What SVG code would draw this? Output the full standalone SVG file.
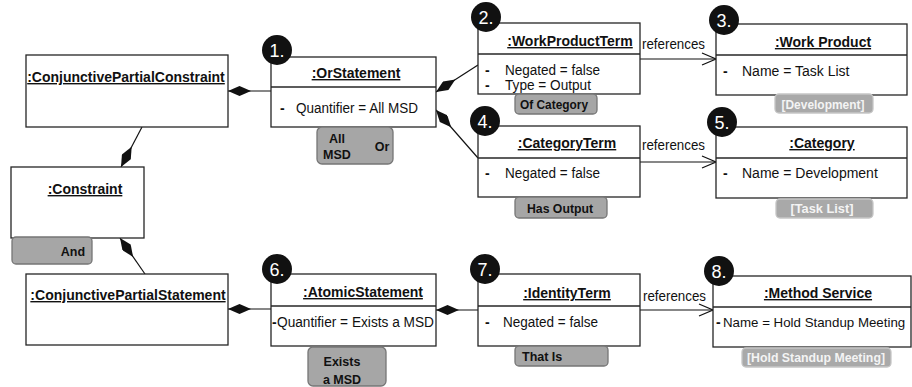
<svg xmlns="http://www.w3.org/2000/svg" width="912" height="387" viewBox="0 0 912 387">
  <defs>
    <style>
      .box { fill: #ffffff; stroke: #262626; stroke-width: 1.3; }
      .sep { stroke: #262626; stroke-width: 1.3; }
      .title { font-family: "Liberation Sans", Arial, sans-serif; font-weight: bold; font-size: 14px; text-anchor: middle; text-decoration: underline; fill: #111; }
      .attr { font-family: "Liberation Sans", Arial, sans-serif; font-size: 14px; fill: #111; }
      .dash { font-family: "Liberation Sans", Arial, sans-serif; font-weight: bold; font-size: 14px; fill: #111; }
      .badge circle { fill: #111111; }
      .badge text { font-family: "Liberation Sans", Arial, sans-serif; font-size: 18px; fill: #ffffff; text-anchor: middle; }
      .tag rect { fill: #a6a6a6; stroke: #767676; stroke-width: 1.3; }
      .tag text { font-family: "Liberation Sans", Arial, sans-serif; font-weight: bold; font-size: 12.5px; fill: #111; }
      .ref rect { fill: #a9a9a9; stroke: #c6c6c6; stroke-width: 1.3; }
      .ref text { font-family: "Liberation Sans", Arial, sans-serif; font-weight: bold; font-size: 13px; fill: #f4f4f4; text-anchor: middle; }
      .conn line { stroke: #111; stroke-width: 1.2; fill: none; }
      .lbl { font-family: "Liberation Sans", Arial, sans-serif; font-size: 14px; fill: #111; }
    </style>
    <marker id="diamond" markerUnits="userSpaceOnUse" markerWidth="23" markerHeight="10" viewBox="0 0 23 10" refX="0" refY="5" orient="auto">
      <path d="M0,5 L11.5,0 L23,5 L11.5,10 Z" fill="#111"/>
    </marker>
    <marker id="open" markerUnits="userSpaceOnUse" markerWidth="16" markerHeight="14" viewBox="0 0 16 14" refX="15" refY="7" orient="auto">
      <path d="M1,1 L15,7 L1,13" fill="none" stroke="#111" stroke-width="1.2"/>
    </marker>
  </defs>

  <!-- connectors: composition diamonds and reference arrows -->
  <g id="connectors" class="conn">
    <line x1="228" y1="91" x2="271" y2="91" marker-start="url(#diamond)"/>
    <line x1="436" y1="92" x2="478" y2="65" marker-start="url(#diamond)"/>
    <line x1="436" y1="110" x2="478" y2="158" marker-start="url(#diamond)"/>
    <line x1="121" y1="167" x2="142" y2="127" marker-start="url(#diamond)"/>
    <line x1="120" y1="238" x2="145" y2="274" marker-start="url(#diamond)"/>
    <line x1="228" y1="309" x2="271" y2="309" marker-start="url(#diamond)"/>
    <line x1="436" y1="310" x2="478" y2="310" marker-start="url(#diamond)"/>
    <line x1="640" y1="59" x2="716" y2="59" marker-end="url(#open)"/>
    <line x1="640" y1="162" x2="716" y2="162" marker-end="url(#open)"/>
    <line x1="640" y1="310" x2="713" y2="310" marker-end="url(#open)"/>
    <text class="lbl" x="642" y="49" textLength="63" lengthAdjust="spacingAndGlyphs">references</text>
    <text class="lbl" x="642" y="150" textLength="63" lengthAdjust="spacingAndGlyphs">references</text>
    <text class="lbl" x="643" y="301" textLength="63" lengthAdjust="spacingAndGlyphs">references</text>
  </g>

  <!-- whole constraint objects -->
  <g id="conjunctive-partial-constraint">
    <rect class="box" x="26" y="55" width="202" height="72"/>
    <text class="title" x="126" y="82">:ConjunctivePartialConstraint</text>
  </g>

  <g id="constraint">
    <rect class="box" x="11" y="167" width="133" height="71"/>
    <text class="title" x="85" y="194">:Constraint</text>
  </g>
  <g id="tag-and" class="tag">
    <rect x="12" y="237" width="80" height="27" rx="4"/>
    <text x="73" y="256" text-anchor="middle">And</text>
  </g>

  <g id="conjunctive-partial-statement">
    <rect class="box" x="26" y="274" width="202" height="71"/>
    <text class="title" x="128" y="300">:ConjunctivePartialStatement</text>
  </g>

  <!-- 1. OrStatement -->
  <g id="or-statement">
    <rect class="box" x="271" y="57" width="165" height="70"/>
    <line class="sep" x1="271" y1="87" x2="436" y2="87"/>
    <text class="title" x="356" y="78">:OrStatement</text>
    <text class="dash" x="280" y="113">-</text>
    <text class="attr" x="296" y="113" textLength="122" lengthAdjust="spacingAndGlyphs">Quantifier = All MSD</text>
    <g class="badge"><circle cx="277" cy="50" r="15"/><text x="277" y="57">1.</text></g>
  </g>
  <g id="tag-all-msd-or" class="tag">
    <rect x="317" y="127" width="76" height="37" rx="5"/>
    <text x="337" y="143" text-anchor="middle">All</text>
    <text x="337" y="159" text-anchor="middle">MSD</text>
    <text x="382" y="151" text-anchor="middle">Or</text>
  </g>

  <!-- 2. WorkProductTerm -->
  <g id="work-product-term">
    <rect class="box" x="478" y="23" width="162" height="71"/>
    <line class="sep" x1="478" y1="54" x2="640" y2="54"/>
    <text class="title" x="570" y="46">:WorkProductTerm</text>
    <text class="dash" x="485" y="75">-</text>
    <text class="attr" x="505" y="75" textLength="95" lengthAdjust="spacingAndGlyphs">Negated = false</text>
    <text class="dash" x="485" y="90">-</text>
    <text class="attr" x="505" y="90" textLength="86" lengthAdjust="spacingAndGlyphs">Type = Output</text>
    <g class="badge"><circle cx="486" cy="17" r="15"/><text x="486" y="24">2.</text></g>
  </g>
  <g id="tag-of-category" class="tag">
    <rect x="515" y="94" width="82" height="20" rx="4"/>
    <text x="554" y="109" text-anchor="middle" textLength="68" lengthAdjust="spacingAndGlyphs">Of Category</text>
  </g>

  <!-- 3. Work Product -->
  <g id="work-product">
    <rect class="box" x="716" y="24" width="191" height="71"/>
    <line class="sep" x1="716" y1="55" x2="907" y2="55"/>
    <text class="title" x="823" y="47">:Work Product</text>
    <text class="dash" x="723" y="76">-</text>
    <text class="attr" x="742" y="76">Name = Task List</text>
    <g class="badge"><circle cx="724" cy="20" r="15"/><text x="724" y="27">3.</text></g>
  </g>
  <g id="ref-development" class="ref">
    <rect x="775" y="94" width="98" height="19" rx="4"/>
    <text x="823" y="109" textLength="83" lengthAdjust="spacingAndGlyphs">[Development]</text>
  </g>

  <!-- 4. CategoryTerm -->
  <g id="category-term">
    <rect class="box" x="478" y="126" width="162" height="71"/>
    <line class="sep" x1="478" y1="158" x2="640" y2="158"/>
    <text class="title" x="567" y="148">:CategoryTerm</text>
    <text class="dash" x="485" y="178">-</text>
    <text class="attr" x="505" y="178" textLength="95" lengthAdjust="spacingAndGlyphs">Negated = false</text>
    <g class="badge"><circle cx="485" cy="121" r="15"/><text x="485" y="128">4.</text></g>
  </g>
  <g id="tag-has-output" class="tag">
    <rect x="515" y="197" width="92" height="21" rx="4"/>
    <text x="560" y="213" text-anchor="middle" textLength="66" lengthAdjust="spacingAndGlyphs">Has Output</text>
  </g>

  <!-- 5. Category -->
  <g id="category">
    <rect class="box" x="716" y="127" width="191" height="71"/>
    <line class="sep" x1="716" y1="158" x2="907" y2="158"/>
    <text class="title" x="822" y="148">:Category</text>
    <text class="dash" x="723" y="178">-</text>
    <text class="attr" x="742" y="178">Name = Development</text>
    <g class="badge"><circle cx="722" cy="122" r="15"/><text x="722" y="129">5.</text></g>
  </g>
  <g id="ref-task-list" class="ref">
    <rect x="776" y="199" width="97" height="19" rx="4"/>
    <text x="822" y="213" textLength="63" lengthAdjust="spacingAndGlyphs">[Task List]</text>
  </g>

  <!-- 6. AtomicStatement -->
  <g id="atomic-statement">
    <rect class="box" x="271" y="274" width="165" height="72"/>
    <line class="sep" x1="271" y1="306" x2="436" y2="306"/>
    <text class="title" x="363" y="297">:AtomicStatement</text>
    <text class="dash" x="272" y="327">-</text>
    <text class="attr" x="277" y="327" textLength="157" lengthAdjust="spacingAndGlyphs">Quantifier = Exists a MSD</text>
    <g class="badge"><circle cx="277" cy="269" r="15"/><text x="277" y="276">6.</text></g>
  </g>
  <g id="tag-exists-a-msd" class="tag">
    <rect x="308" y="347" width="78" height="39" rx="5"/>
    <text x="342" y="366" text-anchor="middle">Exists</text>
    <text x="342" y="384" text-anchor="middle">a MSD</text>
  </g>

  <!-- 7. IdentityTerm -->
  <g id="identity-term">
    <rect class="box" x="478" y="274" width="162" height="72"/>
    <line class="sep" x1="478" y1="306" x2="640" y2="306"/>
    <text class="title" x="567" y="298">:IdentityTerm</text>
    <text class="dash" x="485" y="327">-</text>
    <text class="attr" x="503" y="327" textLength="95" lengthAdjust="spacingAndGlyphs">Negated = false</text>
    <g class="badge"><circle cx="485" cy="269" r="15"/><text x="485" y="276">7.</text></g>
  </g>
  <g id="tag-that-is" class="tag">
    <rect x="515" y="346" width="93" height="20" rx="4"/>
    <text x="522" y="361">That Is</text>
  </g>

  <!-- 8. Method Service -->
  <g id="method-service">
    <rect class="box" x="713" y="276" width="198" height="71"/>
    <line class="sep" x1="713" y1="307" x2="911" y2="307"/>
    <text class="title" x="818" y="298">:Method Service</text>
    <text class="dash" x="716" y="327">-</text>
    <text class="attr" x="723" y="327" style="font-size:13.3px">Name = Hold Standup Meeting</text>
    <g class="badge"><circle cx="719" cy="271" r="15"/><text x="719" y="278">8.</text></g>
  </g>
  <g id="ref-hold-standup-meeting" class="ref">
    <rect x="742" y="348" width="149" height="19" rx="4"/>
    <text x="816" y="362" textLength="138" lengthAdjust="spacingAndGlyphs">[Hold Standup Meeting]</text>
  </g>
</svg>
